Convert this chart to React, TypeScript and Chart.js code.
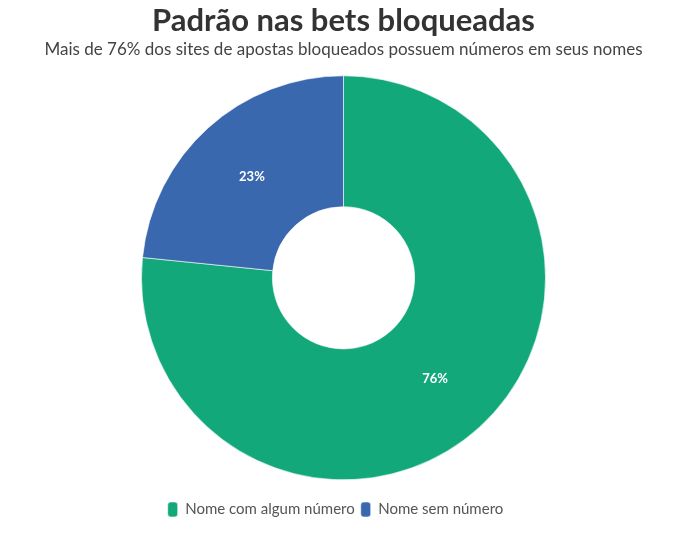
import React, { useEffect, useRef } from "react";
import { Chart, registerables } from "chart.js";

Chart.register(...registerables);

const categories = ["Nome com algum número", "Nome sem número"];
const values = [76.6, 23.4];
const valueLabels = ["76%", "23%"];
const colors = ["#13A879", "#3A68AF"];

const FONT = "Lato, 'Noto Sans', sans-serif";

const sliceLabels = {
  id: "sliceLabels",
  afterDatasetsDraw(chart: any) {
    const ctx = chart.ctx;
    const meta = chart.getDatasetMeta(0);
    ctx.save();
    ctx.fillStyle = "#ffffff";
    ctx.font = `bold 13px ${FONT}`;
    ctx.textAlign = "center";
    ctx.textBaseline = "middle";
    meta.data.forEach((el: any, i: number) => {
      const p = el.tooltipPosition();
      ctx.fillText(valueLabels[i], p.x, p.y);
    });
    ctx.restore();
  },
};

const legendShift = {
  id: "legendShift",
  afterLayout(chart: any) {
    const lg = chart.legend;
    if (lg) {
      lg.left -= 8;
      lg.right -= 8;
    }
  },
};

export default function App() {
  const ref = useRef<HTMLCanvasElement>(null);
  useEffect(() => {
    document.body.style.margin = "0";
    const chart = new Chart(ref.current!, {
      type: "doughnut",
      data: {
        labels: categories,
        datasets: [
          {
            data: values,
            backgroundColor: colors,
            borderColor: "#ffffff",
            borderWidth: 0.6,
            radius: 202,
          },
        ],
      },
      options: {
        animation: false,
        responsive: false,
        cutout: "35.2%",
        layout: { padding: { top: 0, bottom: 6, right: 10 } },
        plugins: {
          title: {
            display: true,
            text: "Padrão nas bets bloqueadas",
            color: "#333333",
            font: { family: FONT, size: 31, weight: "bold" },
            padding: { top: 2, bottom: 0 },
          },
          subtitle: {
            display: true,
            text: "Mais de 76% dos sites de apostas bloqueados possuem números em seus nomes",
            color: "#444444",
            font: { family: FONT, size: 17 },
            padding: { top: 0, bottom: 0 },
          },
          legend: {
            position: "bottom",
            labels: {
              color: "#555555",
              font: { family: FONT, size: 15 },
              boxWidth: 10,
              boxHeight: 15,
              useBorderRadius: true,
              borderRadius: 3,
              padding: 6,
            },
          },
          tooltip: { enabled: false },
        },
      } as any,
      plugins: [sliceLabels, legendShift],
    });
    return () => chart.destroy();
  }, []);
  return (
    <div style={{ width: 697, height: 533 }}>
      <canvas ref={ref} width={697} height={533} />
    </div>
  );
}
